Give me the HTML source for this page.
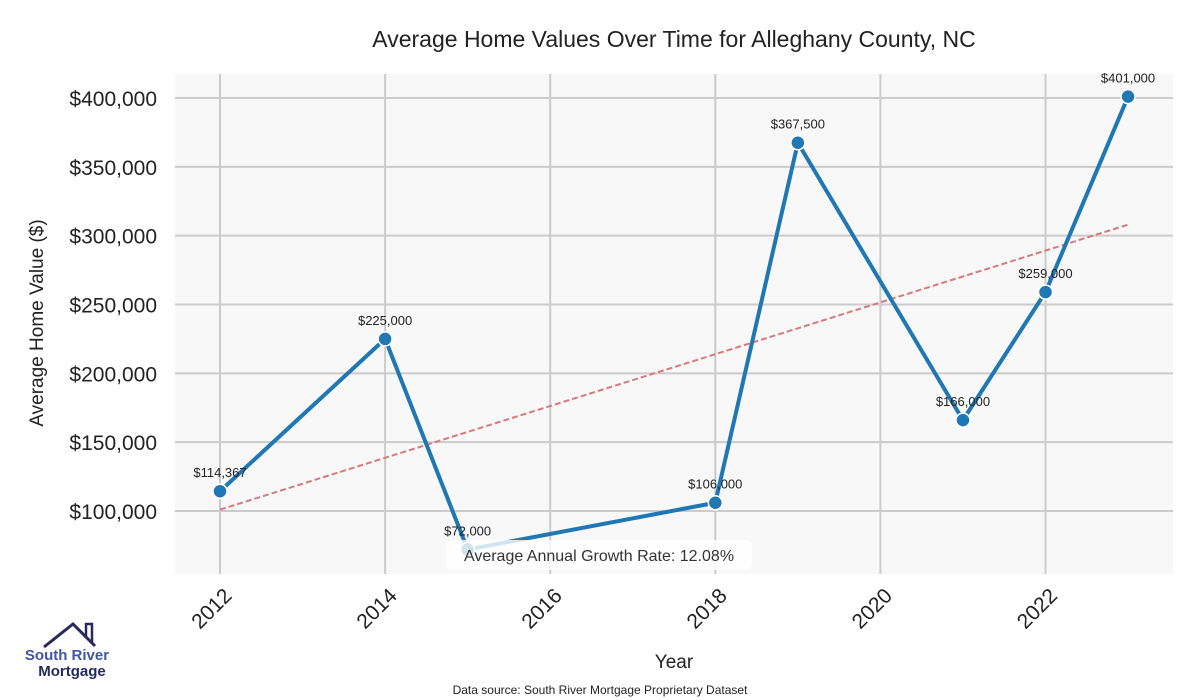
<!DOCTYPE html>
<html><head><meta charset="utf-8"><style>
body{margin:0;background:#fff;}
svg{display:block;font-family:"Liberation Sans",sans-serif;}
</style></head><body>
<svg id="chart" width="1200" height="700">
<rect x="0" y="0" width="1200" height="700" fill="#fff"/>
<text x="674" y="47" text-anchor="middle" font-size="23" fill="#222">Average Home Values Over Time for Alleghany County, NC</text>
<rect x="175" y="74" width="998" height="500" fill="#f8f8f8"/>
<g id="grid"></g>
<g id="trend"></g>
<g id="series"></g>
<g id="labels"></g>
<g id="axes"></g>
<text transform="translate(43,323) rotate(-90)" text-anchor="middle" font-size="19" fill="#222">Average Home Value ($)</text>
<text x="674" y="668" text-anchor="middle" font-size="19" fill="#222">Year</text>
<text x="600" y="694" text-anchor="middle" font-size="12" fill="#222">Data source: South River Mortgage Proprietary Dataset</text>
<g>
<polyline points="44,647 73,624 95,646" fill="none" stroke="#262a5e" stroke-width="3"/>
<polyline points="86,638 86,624 92,624 92,643" fill="none" stroke="#262a5e" stroke-width="2.5"/>
<text x="67" y="660" text-anchor="middle" font-size="15" font-weight="bold" fill="#3f56a6">South River</text>
<text x="72" y="676" text-anchor="middle" font-size="15" font-weight="bold" fill="#262a5e">Mortgage</text>
</g>
<g>
<rect x="446" y="540" width="306" height="30" rx="6" fill="#fff" fill-opacity="0.8"/>
<text x="599" y="561" text-anchor="middle" font-size="16" fill="#333">Average Annual Growth Rate: 12.08%</text>
</g>
</svg>
<script>
const years=[2012,2014,2015,2018,2019,2021,2022,2023];
const values=[114367,225000,72000,106000,367500,166000,259000,401000];
const valueLabels=["$114,367","$225,000","$72,000","$106,000","$367,500","$166,000","$259,000","$401,000"];
const yTicks=[100000,150000,200000,250000,300000,350000,400000];
const xTicks=[2012,2014,2016,2018,2020,2022];
const trendStart=101000, trendEnd=308000;
const ns="http://www.w3.org/2000/svg";
const X=y=>220+(y-2012)*82.55;
const Y=v=>511-(v-100000)*413/300000;
function mk(t,a,p){const e=document.createElementNS(ns,t);for(const k in a)e.setAttribute(k,a[k]);p.appendChild(e);return e;}
const grid=document.getElementById('grid'),axes=document.getElementById('axes');
yTicks.forEach(v=>{
 const l=mk('line',{x1:175,x2:1173,y1:Y(v),y2:Y(v),stroke:'#cbcbcb','stroke-width':2},grid);
 
 
 const t=mk('text',{x:157,y:Y(v)+8,'text-anchor':'end','font-size':21,fill:'#222'},axes);
 t.textContent='$'+v.toLocaleString('en-US');
 
 
});
xTicks.forEach(y=>{
 const l=mk('line',{x1:X(y),x2:X(y),y1:74,y2:574,stroke:'#cbcbcb','stroke-width':2},grid);
 
 
 const t=mk('text',{transform:`translate(${X(y)+13},${597}) rotate(-45)`,'text-anchor':'end','font-size':21,fill:'#222'},axes);
 t.textContent=y;
 
 
});
const tr=mk('line',{x1:X(years[0]),y1:Y(trendStart),x2:X(years[years.length-1]),y2:Y(trendEnd),stroke:'#d67b7b','stroke-width':2,'stroke-dasharray':'6,3'},document.getElementById('trend'));


const s=document.getElementById('series');
const pl=mk('polyline',{points:years.map((y,i)=>X(y)+','+Y(values[i])).join(' '),fill:'none',stroke:'#1f77b4','stroke-width':4,'stroke-linejoin':'round'},s);


const lb=document.getElementById('labels');
years.forEach((y,i)=>{
 const c=mk('circle',{cx:X(y),cy:Y(values[i]),r:7,fill:'#1f77b4',stroke:'#fff','stroke-width':1.5},s);
 
 
 const t=mk('text',{x:X(y),y:Y(values[i])-14,'text-anchor':'middle','font-size':13,fill:'#222'},lb);
 t.textContent=valueLabels[i];
 
 
});
</script>
</body></html>
